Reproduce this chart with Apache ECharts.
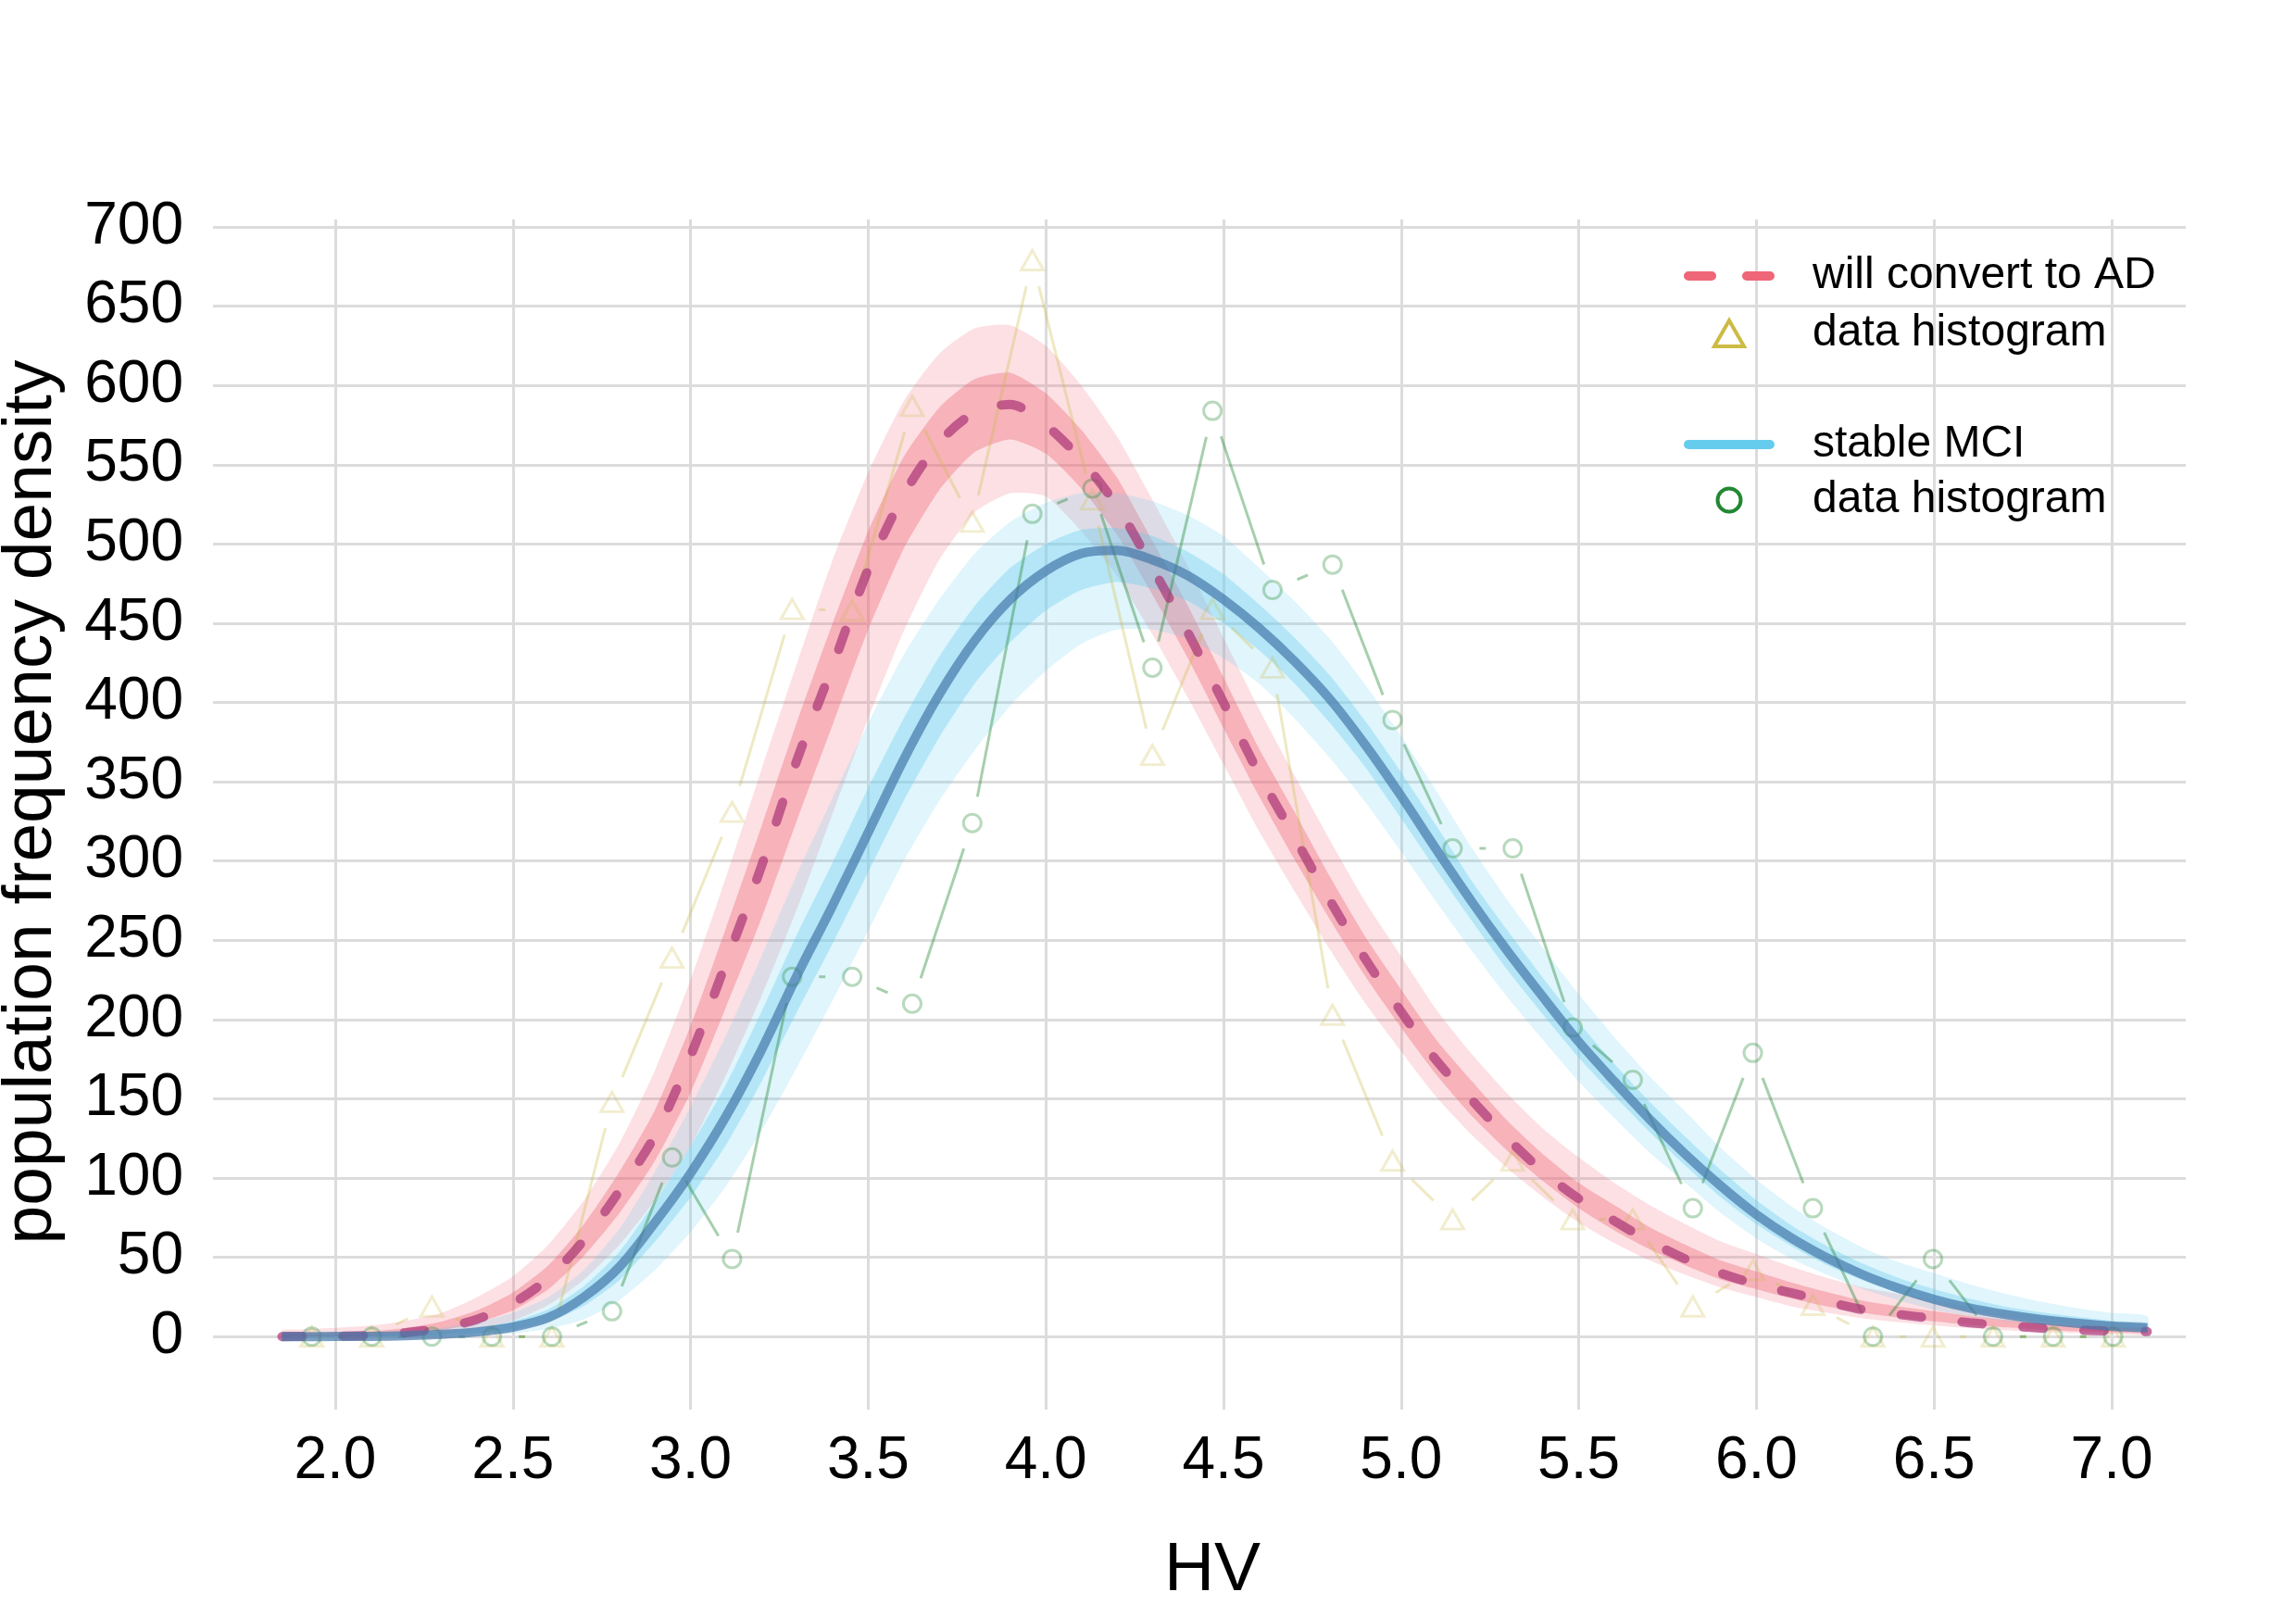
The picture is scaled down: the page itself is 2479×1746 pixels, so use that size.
<!DOCTYPE html>
<html>
<head>
<meta charset="utf-8">
<script src="https://cdn.jsdelivr.net/npm/echarts@6/dist/echarts.min.js"></script>
<style>
  html, body { margin: 0; padding: 0; background: #fff; }
  #chart { width: 2479px; height: 1746px; }
</style>
</head>
<body>
<div id="chart"></div>
<script>
// grid of HV values the fitted densities are read at
var xs = [1.85, 1.9, 2.0, 2.1, 2.2, 2.3, 2.4, 2.5, 2.6, 2.7, 2.8, 2.9, 3.0, 3.1, 3.2, 3.3, 3.4, 3.5, 3.6, 3.7, 3.8, 3.9, 4.0, 4.1, 4.2, 4.3, 4.4, 4.5, 4.6, 4.7, 4.8, 4.9, 5.0, 5.1, 5.2, 5.3, 5.4, 5.5, 5.6, 5.7, 5.8, 5.9, 6.0, 6.1, 6.2, 6.3, 6.4, 6.5, 6.6, 6.7, 6.8, 6.9, 7.0, 7.1];

// will convert to AD : mean density + spread of the posterior samples
var adMean    = [0, 0.2, 0.3, 0.8, 2.5, 5.5, 11, 21, 37, 61, 92, 127, 177, 236, 297, 364, 423, 484, 531, 564, 583, 588, 575, 553, 524, 485, 444, 400, 355, 315, 275, 238, 205, 174, 149, 125, 104, 87, 73, 60, 49, 40, 33, 27.5, 22, 17, 14, 11.3, 8.8, 7, 5.4, 4.1, 3.6, 3.2];
var adOuterLo = [0, 0, 0, 0.2, 0.8, 2, 5, 10, 20, 36, 58, 86, 120, 165, 215, 270, 330, 390, 445, 490, 520, 532, 530, 508, 480, 443, 403, 361, 319, 281, 244, 210, 180, 151, 127, 106, 88, 72, 59, 48, 39, 31, 25, 19, 15, 11.5, 9, 7, 5.3, 4, 3, 2.2, 1.7, 1.3];
var adOuterHi = [4, 4.5, 5.5, 7, 10, 15, 25, 38, 58, 86, 122, 168, 225, 290, 358, 425, 490, 545, 590, 620, 636, 638, 625, 600, 568, 528, 486, 441, 396, 354, 313, 274, 240, 206, 178, 153, 131, 113, 97, 83, 71, 60, 52, 44, 37, 31, 27, 23, 19, 16, 13, 11, 9.5, 8.5];
var adInnerLo = [0, 0.1, 0.2, 0.5, 1.8, 4.1, 8.6, 16.6, 30, 51, 78, 111, 154, 208, 264, 326, 386, 446, 497, 534, 558, 566, 557, 535, 506, 468, 428, 384, 341, 301, 263, 227, 195, 165, 139, 117, 98, 81, 67, 55, 45, 36, 30, 24, 19, 15, 12, 9.6, 7.4, 5.8, 4.4, 3.3, 2.8, 2.4];
var adInnerHi = [1.6, 1.9, 2.4, 3.2, 5.5, 9.5, 16.6, 27.8, 45, 71, 104, 143, 196, 258, 322, 388, 450, 508, 555, 586, 604, 608, 595, 572, 542, 502, 461, 416, 371, 331, 290, 252, 219, 187, 161, 136, 115, 97, 83, 69, 58, 48, 41, 34, 28, 22.6, 19, 16, 13, 10.6, 8.5, 7, 6, 5.3];

// stable MCI
var mciMean    = [0, 0, 0.1, 0.2, 0.6, 1.4, 3, 6, 12, 25, 44, 72, 103, 139, 181, 228, 272, 318, 364, 405, 439, 465, 483, 494, 496, 490, 480, 465, 447, 426, 402, 373, 341, 307, 274, 243, 214, 186, 161, 137, 115, 95, 77, 62, 49.5, 39, 30.5, 23.5, 18, 14, 10.8, 8.5, 6.6, 5.5];
var mciOuterLo = [0, 0, 0, 0, 0.1, 0.3, 0.8, 2, 5, 11, 23, 42, 66, 95, 130, 170, 212, 256, 300, 338, 370, 398, 420, 437, 446, 446, 440, 428, 412, 390, 365, 337, 306, 274, 243, 214, 187, 161, 138, 116, 97, 78, 62, 49, 39, 30, 23, 17, 13, 10, 7.5, 5.8, 4.5, 3.5];
var mciOuterHi = [1.5, 1.6, 2, 2.6, 3.6, 5.5, 9, 15, 25, 42, 68, 104, 145, 190, 240, 292, 340, 387, 430, 465, 494, 514, 526, 532, 532, 527, 518, 505, 485, 464, 440, 411, 379, 344, 308, 275, 245, 216, 189, 164, 142, 119, 99, 82, 68, 56, 47, 40, 33, 27, 22, 18, 15, 13];
var mciInnerLo = [0, 0, 0.06, 0.12, 0.4, 1, 2.1, 4.4, 9.2, 19.4, 35.6, 60, 88, 121, 161, 205, 248, 293, 338, 378, 412, 438, 458, 471, 476, 472, 464, 450, 433, 412, 387, 359, 327, 294, 262, 231, 203, 176, 152, 129, 108, 88, 71, 57, 45, 35.5, 27.5, 21, 16, 12.4, 9.5, 7.4, 5.8, 4.7];
var mciInnerHi = [0.6, 0.7, 0.9, 1.2, 1.8, 3, 5.4, 9.6, 17.2, 31.8, 53.6, 85, 120, 159, 205, 254, 299, 346, 390, 429, 461, 485, 500, 509, 510, 505, 495, 481, 462, 441, 417, 388, 356, 322, 287, 256, 226, 198, 172, 148, 126, 105, 86, 70, 57, 46, 37, 30, 24, 19, 15.3, 12.5, 10, 8.5];

// data histograms (bin centres and heights)
var binCenters = [1.934, 2.103, 2.272, 2.441, 2.610, 2.779, 2.948, 3.117, 3.286, 3.455, 3.624, 3.793, 3.962, 4.131, 4.300, 4.469, 4.638, 4.807, 4.976, 5.145, 5.314, 5.483, 5.652, 5.821, 5.990, 6.159, 6.328, 6.497, 6.666, 6.835, 7.004];
var adHist  = [0, 0, 19, 0, 0, 148, 239, 331, 459, 458, 587, 514, 679, 528, 367, 459, 422, 203, 111, 74, 111, 74, 74, 19, 42, 20, 0, 0, 0, 0, 0];
var mciHist = [0, 0, 0, 0, 0, 16, 113, 49, 227, 227, 210, 324, 519, 535, 422, 584, 471, 487, 389, 308, 308, 195, 162, 81, 179, 81, 0, 49, 0, 0, 0];

var FONT = '"Liberation Sans", Arial, Helvetica, sans-serif';

function pairs(x, y) {
    var out = [];
    for (var i = 0; i < x.length; i++) out.push([x[i], y[i]]);
    return out;
}

// filled band between two curves, drawn through the axes
function band(lo, hi, color, z) {
    return {
        type: 'custom', silent: true, z: z,
        data: [[xs[0], lo[0]]],
        renderItem: function (params, api) {
            var pts = [];
            for (var i = 0; i < xs.length; i++) pts.push(api.coord([xs[i], hi[i]]));
            for (var j = xs.length - 1; j >= 0; j--) pts.push(api.coord([xs[j], lo[j]]));
            return { type: 'polygon', shape: { points: pts, smooth: 0.2 }, style: { fill: color } };
        }
    };
}

// histogram polyline with gaps round the markers (like type = "b")
function histLine(vals, color) {
    var segs = [];
    for (var i = 0; i < binCenters.length - 1; i++) {
        segs.push([binCenters[i], vals[i], binCenters[i + 1], vals[i + 1]]);
    }
    return {
        type: 'custom', silent: true, z: 3,
        data: segs,
        encode: { x: [0, 2], y: [1, 3] },
        renderItem: function (params, api) {
            var a = api.coord([api.value(0), api.value(1)]);
            var b = api.coord([api.value(2), api.value(3)]);
            var dx = b[0] - a[0], dy = b[1] - a[1];
            var len = Math.sqrt(dx * dx + dy * dy);
            var gap = 29;
            if (len <= 2 * gap) return null;
            var ux = dx / len, uy = dy / len;
            return {
                type: 'line',
                shape: { x1: a[0] + ux * gap, y1: a[1] + uy * gap, x2: b[0] - ux * gap, y2: b[1] - uy * gap },
                style: { stroke: color, lineWidth: 3 }
            };
        }
    };
}

var chart = echarts.init(document.getElementById('chart'), null, { renderer: 'canvas' });

var option = {
    backgroundColor: '#ffffff',
    animation: false,
    grid: { left: 230, right: 119, top: 237, bottom: 224, containLabel: false, outerBoundsMode: 'none' },
    xAxis: {
        type: 'value',
        min: 1.656, max: 7.2085,
        splitNumber: 11,
        name: 'HV',
        nameLocation: 'middle',
        nameGap: 137,
        nameTextStyle: { fontSize: 75, fontFamily: FONT, color: '#000', padding: [0, 0, 0, 28] },
        axisLine: { show: false },
        axisTick: { show: false },
        axisLabel: {
            fontSize: 64, fontFamily: FONT, color: '#000', margin: 24,
            showMinLabel: false, showMaxLabel: false,
            formatter: function (v) { return v.toFixed(1); }
        },
        splitLine: { show: true, showMinLine: false, showMaxLine: false, lineStyle: { color: '#dcdcdc', width: 3 } }
    },
    yAxis: {
        type: 'value',
        min: -46, max: 704.7,
        splitNumber: 15,
        name: 'population frequency density',
        nameLocation: 'middle',
        nameGap: 158,
        nameTextStyle: { fontSize: 75, fontFamily: FONT, color: '#000', padding: [0, 0, 0, 27] },
        axisLine: { show: false },
        axisTick: { show: false },
        axisLabel: {
            fontSize: 64, fontFamily: FONT, color: '#000', margin: 32,
            showMinLabel: false, showMaxLabel: false
        },
        splitLine: { show: true, showMinLine: false, showMaxLine: false, lineStyle: { color: '#dcdcdc', width: 3 } }
    },
    legend: [
        {
            orient: 'vertical', left: 1818, top: 272, padding: 0,
            itemWidth: 88, itemHeight: 28, itemGap: 10, selectedMode: false,
            textStyle: { fontSize: 48, fontFamily: FONT, color: '#000', lineHeight: 52, padding: [0, 0, 0, 41] },
            data: [
                { name: 'will convert to AD', itemStyle: { opacity: 0 },
                  lineStyle: { color: '#EE6677', width: 10, type: [25, 38], cap: 'round', opacity: 1 } },
                { name: 'data histogram', icon: 'path://M0,28 L16,0 L32,28 Z',
                  itemStyle: { color: 'rgba(0,0,0,0)', borderColor: '#CCBB44', borderWidth: 4, opacity: 1 } }
            ]
        },
        {
            orient: 'vertical', left: 1818, top: 454, padding: 0,
            itemWidth: 88, itemHeight: 25, itemGap: 8, selectedMode: false,
            textStyle: { fontSize: 48, fontFamily: FONT, color: '#000', lineHeight: 52, padding: [0, 0, 0, 41] },
            data: [
                { name: 'stable MCI', itemStyle: { opacity: 0 },
                  lineStyle: { color: '#66CCEE', width: 10, type: 'solid', cap: 'round', opacity: 1 } },
                { name: 'data histogram ', icon: 'circle',
                  itemStyle: { color: 'rgba(0,0,0,0)', borderColor: '#228833', borderWidth: 4, opacity: 1 } }
            ]
        }
    ],
    series: [
        band(adOuterLo, adOuterHi, 'rgba(238,102,119,0.20)', 1),
        band(adInnerLo, adInnerHi, 'rgba(238,102,119,0.38)', 1),
        band(mciOuterLo, mciOuterHi, 'rgba(102,204,238,0.20)', 2),
        band(mciInnerLo, mciInnerHi, 'rgba(102,204,238,0.36)', 2),
        histLine(adHist, 'rgba(204,187,68,0.32)'),
        histLine(mciHist, 'rgba(34,136,51,0.40)'),
        {
            name: 'data histogram', type: 'scatter', silent: true, z: 4,
            data: pairs(binCenters, adHist),
            symbol: 'triangle', symbolSize: [24, 21],
            itemStyle: { color: 'rgba(0,0,0,0)', borderColor: 'rgba(204,187,68,0.32)', borderWidth: 3 }
        },
        {
            name: 'data histogram ', type: 'scatter', silent: true, z: 4,
            data: pairs(binCenters, mciHist),
            symbol: 'circle', symbolSize: 19,
            itemStyle: { color: 'rgba(0,0,0,0)', borderColor: 'rgba(34,136,51,0.40)', borderWidth: 3 }
        },
        {
            name: 'will convert to AD', type: 'line', silent: true, z: 5,
            data: pairs(xs, adMean),
            smooth: 0.3, symbol: 'none',
            lineStyle: { color: '#AA3377', width: 10, type: [22, 44], cap: 'round', opacity: 0.7 }
        },
        {
            name: 'stable MCI', type: 'line', silent: true, z: 6,
            data: pairs(xs, mciMean),
            smooth: 0.3, symbol: 'none',
            lineStyle: { color: '#4477AA', width: 10, opacity: 0.7 }
        }
    ]
};

chart.setOption(option);
</script>
</body>
</html>
